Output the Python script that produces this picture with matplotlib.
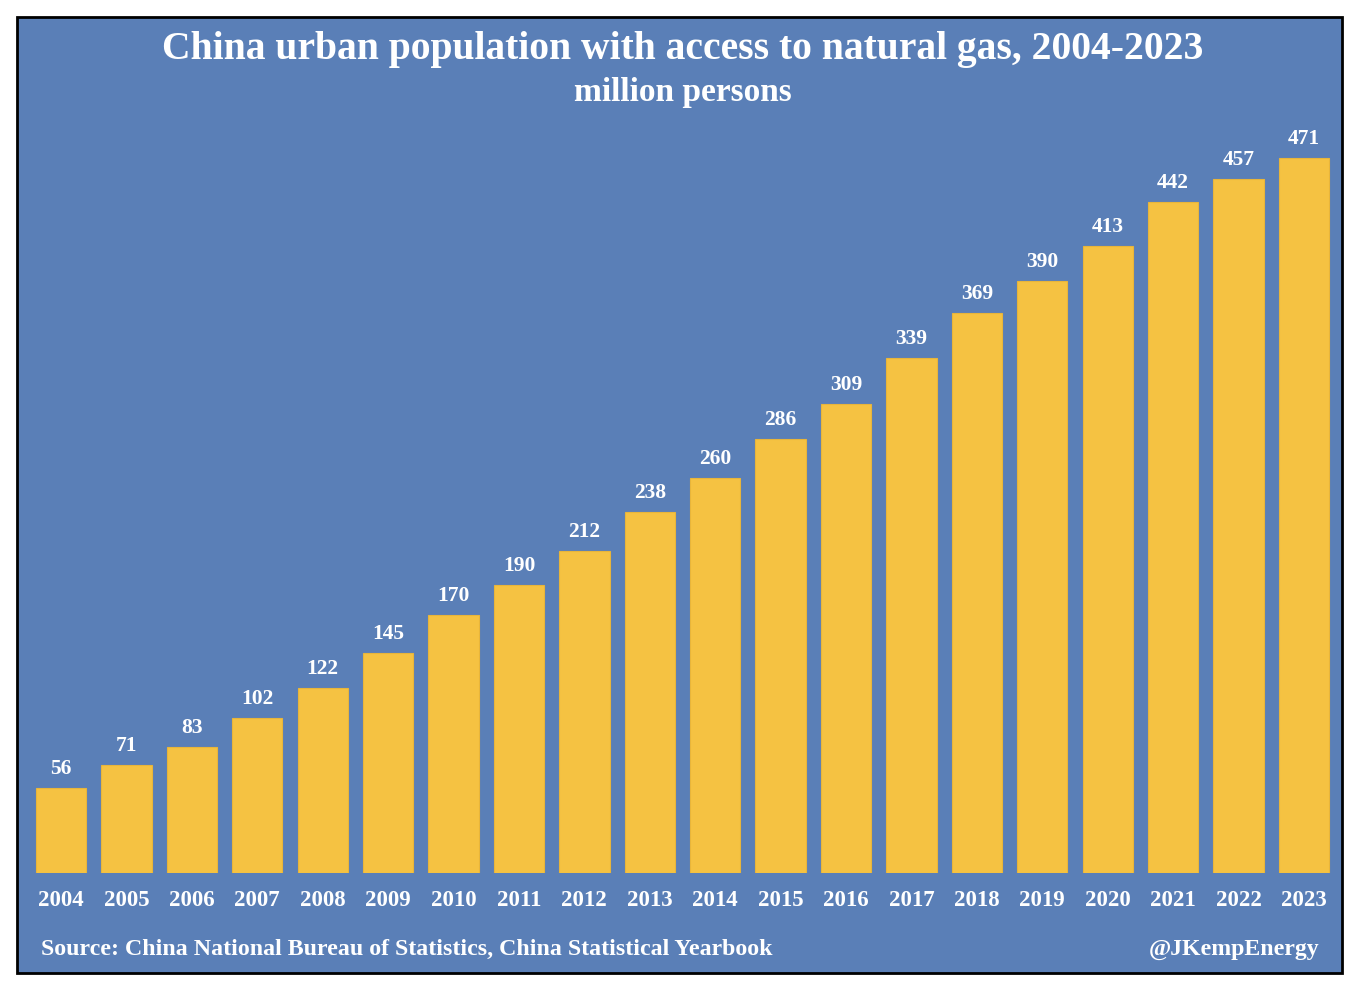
import matplotlib.pyplot as plt
from matplotlib.patches import Rectangle

years = [str(y) for y in range(2004, 2024)]
values = [56, 71, 83, 102, 122, 145, 170, 190, 212, 238,
          260, 286, 309, 339, 369, 390, 413, 442, 457, 471]

blue = '#5A7FB7'
yellow = '#F5C242'
W, H = 1354, 984

plt.rcParams['font.family'] = ['Liberation Serif', 'DejaVu Serif']
plt.rcParams['font.weight'] = 'bold'

fig = plt.figure(figsize=(W / 100, H / 100), dpi=100, facecolor='white')

# blue panel with black frame, behind the axes
fig.patches.append(Rectangle((17 / W, 1 - 973 / H), (1342 - 17) / W, (973 - 17) / H,
                             transform=fig.transFigure, facecolor=blue,
                             edgecolor='black', linewidth=2, zorder=-1))

ax = fig.add_axes([30 / W, 111 / H, (1335 - 30) / W, (864 - 111) / H])
ax.set_facecolor('none')
x = range(len(years))
bars = ax.bar(x, values, width=0.77, color=yellow, edgecolor='#E8B53A', linewidth=0.8)
for xi, v in zip(x, values):
    ax.annotate(str(v), (xi, v), xytext=(0, 9), textcoords='offset pixels',
                ha='center', va='bottom', color='white', fontsize=15.5, fontweight='bold')

ax.set_xlim(-0.474, 19.474)
ax.set_ylim(0, 496)
ax.set_xticks(list(x))
ax.set_xticklabels(years, color='white', fontsize=16.5, fontweight='bold')
ax.tick_params(axis='x', length=0, pad=12)
ax.set_yticks([])
for s in ax.spines.values():
    s.set_visible(False)

fig.text(683 / W, 1 - 50 / H, 'China urban population with access to natural gas, 2004-2023',
         ha='center', va='center', color='white', fontsize=28.5, fontweight='bold')
fig.text(683 / W, 1 - 93 / H, 'million persons', ha='center', va='center',
         color='white', fontsize=24, fontweight='bold')
fig.text(41 / W, 1 - 949 / H, 'Source: China National Bureau of Statistics, China Statistical Yearbook',
         ha='left', va='center', color='white', fontsize=17.2, fontweight='bold')
fig.text(1320 / W, 1 - 949 / H, '@JKempEnergy', ha='right', va='center',
         color='white', fontsize=17.2, fontweight='bold')

fig.savefig('out.png', dpi=100, facecolor='white')
